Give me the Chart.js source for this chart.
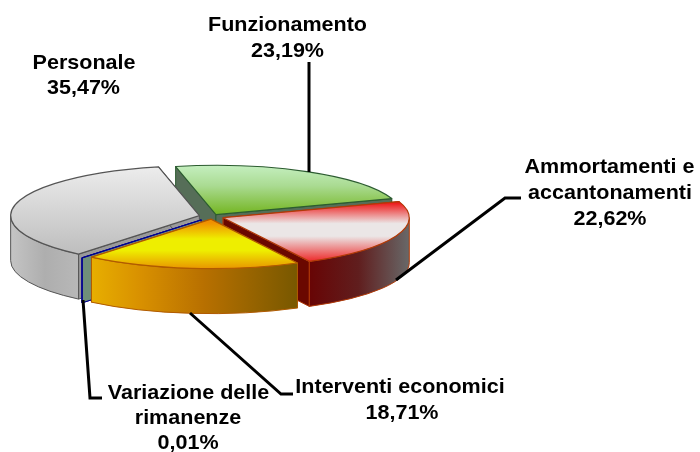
<!DOCTYPE html>
<html>
<head>
<meta charset="utf-8">
<style>html,body{margin:0;padding:0;background:#fff}#w{width:700px;height:452px}canvas{display:block}</style>
<script src="https://cdn.jsdelivr.net/npm/chart.js@4/dist/chart.umd.min.js"></script>
</head>
<body>
<div id="w"><canvas id="c" width="700" height="452"></canvas></div>
<script>
const categories = ["Funzionamento", "Ammortamenti e accantonamenti", "Interventi economici", "Variazione delle rimanenze", "Personale"];
const shares = [23.19, 22.62, 18.71, 0.01, 35.47];
const shareLabels = ["23,19%", "22,62%", "18,71%", "0,01%", "35,47%"];

const K = 0.265, CY = 216.5, WALL = 45;
const canvas = document.getElementById('c');
const ctx0 = canvas.getContext('2d');
const sy = y => CY + (y - CY) / K;
function vgrad(y0, y1, stops) {
  const g = ctx0.createLinearGradient(0, sy(y0), 0, sy(y1));
  stops.forEach(s => g.addColorStop(s[0], s[1]));
  return g;
}
function hgrad(x0, x1, stops) {
  const g = ctx0.createLinearGradient(x0, 0, x1, 0);
  stops.forEach(s => g.addColorStop(s[0], s[1]));
  return g;
}
const tops = [
  vgrad(166, 214, [[0, '#c6f0c2'], [0.45, '#aadb92'], [1, '#78b82a']]),
  vgrad(202, 262, [[0, '#ee1c1c'], [0.34, '#ebe6e6'], [0.55, '#ebe6e6'], [1, '#ee1c1c']]),
  vgrad(220, 268, [[0, '#f09000'], [0.34, '#eeee00'], [0.58, '#eeee00'], [1, '#e88c00']]),
  '#2030a0',
  vgrad(168, 254, [[0, '#ececec'], [1, '#bebebe']])
];
const walls = [
  '#5a705a',
  hgrad(308, 409, [[0, '#680404'], [0.5, '#601e1e'], [1, '#686868']]),
  hgrad(89, 297, [[0, '#e8b000'], [0.25, '#d89000'], [0.55, '#b87000'], [1, '#785800']]),
  '#6f8f7a',
  hgrad(11, 79, [[0, '#c4c4c4'], [0.5, '#aeaeae'], [1, '#b8b8b8']])
];
const faces = ['#566e58', '#6a0800', '#7a5800', '#6f8f7a', '#9a9a9a'];
const edges = ['#2c5c30', '#b03a08', '#b05a00', '#000090', '#555555'];
// paint order, far to near
const order = [0, 4, 3, 1, 2];

function geom(el) {
  const p = el.getProps(['x', 'y', 'startAngle', 'endAngle', 'outerRadius']);
  const off = (el.options.offset || 0) / 4;
  const circ = p.endAngle - p.startAngle;
  const mid = (p.startAngle + p.endAngle) / 2;
  const fix = circ > 0.1 ? 1 - Math.sin(Math.min(Math.PI, circ)) : 0;
  return {
    cx: p.x + Math.cos(mid) * off,
    cy: CY + (p.y - CY + Math.sin(mid) * off) * K,
    r: p.outerRadius + off * fix,
    a: p.startAngle, b: p.endAngle
  };
}
const ptX = (g, t) => g.cx + Math.cos(t) * g.r;
const ptY = (g, t) => g.cy + Math.sin(t) * g.r * K;

const piePlugin = {
  id: 'pie3d',
  beforeDatasetsDraw(chart) {
    const ctx = chart.ctx;
    const arcs = chart.getDatasetMeta(0).data;
    ctx.save();
    ctx.lineWidth = 1;
    order.forEach(i => {
      const g = geom(arcs[i]);
      ctx.strokeStyle = edges[i];
      [g.a, g.b].forEach(t => {
        ctx.beginPath();
        ctx.moveTo(g.cx, g.cy);
        ctx.lineTo(ptX(g, t), ptY(g, t));
        ctx.lineTo(ptX(g, t), ptY(g, t) + WALL);
        ctx.lineTo(g.cx, g.cy + WALL);
        ctx.closePath();
        ctx.fillStyle = faces[i];
        ctx.fill();
        ctx.stroke();
      });
      const from = Math.max(g.a, 0), to = Math.min(g.b, Math.PI);
      if (to > from) {
        ctx.beginPath();
        ctx.ellipse(g.cx, g.cy, g.r, g.r * K, 0, from, to, false);
        ctx.ellipse(g.cx, g.cy + WALL, g.r, g.r * K, 0, to, from, true);
        ctx.closePath();
        ctx.fillStyle = walls[i];
        ctx.fill();
        ctx.stroke();
      }
    });
    ctx.restore();
    ctx.save();
    ctx.translate(0, CY);
    ctx.scale(1, K);
    ctx.translate(0, -CY);
  },
  afterDatasetsDraw(chart) {
    const ctx = chart.ctx;
    ctx.restore();
    const arcs = chart.getDatasetMeta(0).data;
    ctx.save();
    ctx.lineWidth = 1.2;
    ctx.lineJoin = 'round';
    order.forEach(i => {
      const g = geom(arcs[i]);
      ctx.beginPath();
      ctx.moveTo(g.cx, g.cy);
      ctx.ellipse(g.cx, g.cy, g.r, g.r * K, 0, g.a, g.b, false);
      ctx.closePath();
      ctx.strokeStyle = edges[i];
      ctx.stroke();
    });
    // leader lines
    ctx.strokeStyle = '#000';
    ctx.lineWidth = 3;
    ctx.lineJoin = 'miter';
    [
      [[309, 62], [309, 172]],
      [[396, 280], [505, 198], [521, 198]],
      [[190, 313], [281, 394], [293, 394]],
      [[83, 300], [90, 398], [102, 398]]
    ].forEach(l => {
      ctx.beginPath();
      l.forEach((p, j) => j ? ctx.lineTo(p[0], p[1]) : ctx.moveTo(p[0], p[1]));
      ctx.stroke();
    });
    // data labels
    ctx.fillStyle = '#000';
    ctx.font = 'bold 21px "Liberation Sans", Arial, sans-serif';
    ctx.textAlign = 'center';
    ctx.textBaseline = 'alphabetic';
    const put = (x, y, s) => {
      ctx.save();
      ctx.translate(x, y);
      ctx.scale(1.025, 1);
      ctx.fillText(s, 0, 0);
      ctx.restore();
    };
    put(287.5, 31, categories[0]); put(287.5, 56.5, shareLabels[0]);
    put(609.5, 173, 'Ammortamenti e'); put(610, 199, 'accantonamenti'); put(610, 224.5, shareLabels[1]);
    put(400, 393, categories[2]); put(402, 419, shareLabels[2]);
    put(188.5, 399, 'Variazione delle'); put(188, 424, 'rimanenze'); put(188, 449, shareLabels[3]);
    put(84, 69, categories[4]); put(83.5, 94, shareLabels[4]);
    ctx.restore();
  }
};

new Chart(ctx0, {
  type: 'pie',
  data: {
    labels: categories,
    datasets: [{
      data: shares,
      backgroundColor: tops,
      borderColor: edges,
      borderWidth: 0,
      offset: [32, 48, 40, 68, 52],
      radius: 186,
      clip: false
    }]
  },
  options: {
    responsive: false,
    animation: false,
    rotation: -12.5,
    layout: { padding: { left: 0, right: 276, top: 0, bottom: 19 } },
    plugins: { legend: { display: false }, tooltip: { enabled: false } }
  },
  plugins: [piePlugin]
});
</script>
</body>
</html>
